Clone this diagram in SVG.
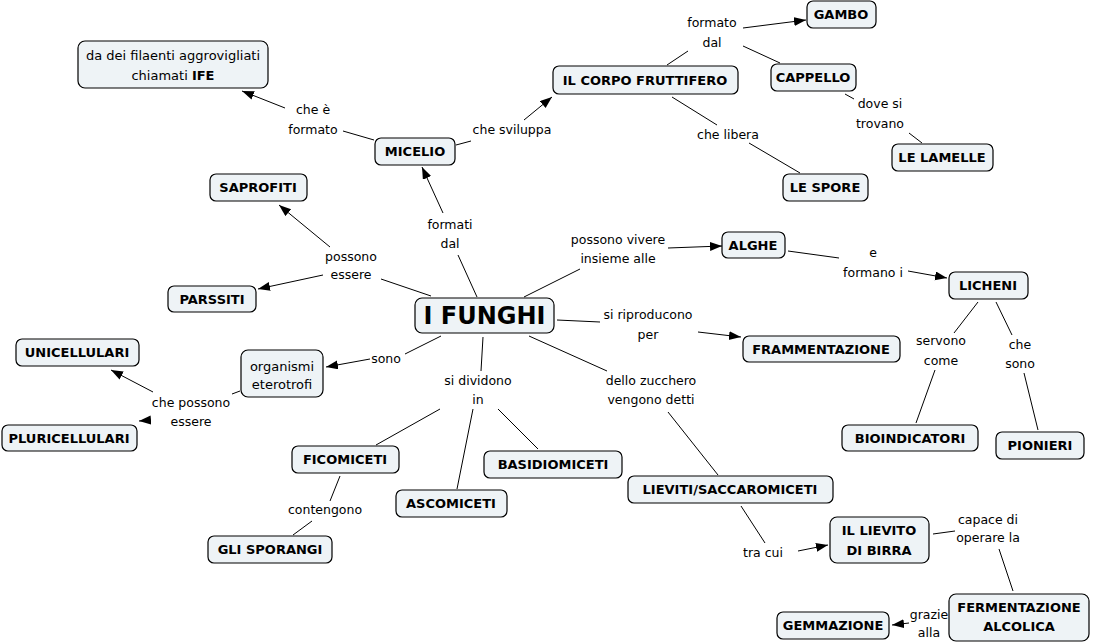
<svg xmlns="http://www.w3.org/2000/svg" width="1096" height="643" viewBox="0 0 1096 643">
<style>
.n rect{fill:#eef3f6;stroke:#000;stroke-width:1.2}
.n text{font-family:"DejaVu Sans",sans-serif;font-size:13px;font-weight:bold;text-anchor:middle;fill:#000}
.n text.r{font-weight:normal}
.l{font-family:"DejaVu Sans",sans-serif;font-size:12.5px;text-anchor:middle;fill:#000}
#c line{stroke:#000;stroke-width:1}
</style>
<defs>
<marker id="a" markerUnits="userSpaceOnUse" markerWidth="13" markerHeight="10" refX="12" refY="4.5" orient="auto"><path d="M0,0 L12,4.5 L0,9 z" fill="#000"/></marker>
</defs>
<rect width="1096" height="643" fill="#fff"/>
<g id="c">
<line x1="374" y1="140" x2="343" y2="131"/>
<line x1="285" y1="108" x2="242" y2="91" marker-end="url(#a)"/>
<line x1="456" y1="145" x2="471" y2="141"/>
<line x1="524" y1="120" x2="552" y2="97" marker-end="url(#a)"/>
<line x1="667" y1="65" x2="688" y2="51"/>
<line x1="743" y1="28" x2="806" y2="20" marker-end="url(#a)"/>
<line x1="743" y1="46" x2="780" y2="63"/>
<line x1="672" y1="97" x2="717" y2="125"/>
<line x1="749" y1="143" x2="800" y2="173"/>
<line x1="845" y1="94" x2="854" y2="99"/>
<line x1="909" y1="133" x2="922" y2="143"/>
<line x1="477" y1="297" x2="458" y2="255"/>
<line x1="443" y1="213" x2="422" y2="167" marker-end="url(#a)"/>
<line x1="431" y1="296" x2="381" y2="279"/>
<line x1="330" y1="247" x2="279" y2="205" marker-end="url(#a)"/>
<line x1="323" y1="275" x2="258" y2="289" marker-end="url(#a)"/>
<line x1="524" y1="297" x2="580" y2="269"/>
<line x1="668" y1="248" x2="722" y2="246" marker-end="url(#a)"/>
<line x1="788" y1="251" x2="839" y2="258"/>
<line x1="908" y1="271" x2="947" y2="278" marker-end="url(#a)"/>
<line x1="557" y1="320" x2="600" y2="322"/>
<line x1="698" y1="332" x2="741" y2="337" marker-end="url(#a)"/>
<line x1="441" y1="336" x2="405" y2="354"/>
<line x1="370" y1="359" x2="326" y2="367" marker-end="url(#a)"/>
<line x1="240" y1="391" x2="232" y2="394"/>
<line x1="153" y1="392" x2="111" y2="370" marker-end="url(#a)"/>
<line x1="151" y1="420" x2="139" y2="421" marker-end="url(#a)"/>
<line x1="483" y1="337" x2="481" y2="371"/>
<line x1="440" y1="409" x2="376" y2="445"/>
<line x1="473" y1="409" x2="457" y2="489"/>
<line x1="498" y1="409" x2="538" y2="449"/>
<line x1="529" y1="336" x2="607" y2="371"/>
<line x1="668" y1="412" x2="718" y2="475"/>
<line x1="741" y1="506" x2="765" y2="543"/>
<line x1="798" y1="551" x2="828" y2="545" marker-end="url(#a)"/>
<line x1="933" y1="534" x2="955" y2="531"/>
<line x1="999" y1="549" x2="1013" y2="591"/>
<line x1="909" y1="623" x2="892" y2="625" marker-end="url(#a)"/>
<line x1="978" y1="302" x2="954" y2="333"/>
<line x1="935" y1="370" x2="916" y2="423"/>
<line x1="996" y1="302" x2="1012" y2="335"/>
<line x1="1024" y1="373" x2="1038" y2="430"/>
<line x1="340" y1="476" x2="330" y2="501"/>
<line x1="312" y1="521" x2="293" y2="535"/>
</g>
<g id="labels">
<text class="l" x="313" y="114">che è</text><text class="l" x="313" y="134">formato</text>
<text class="l" x="512" y="134">che sviluppa</text>
<text class="l" x="712" y="27">formato</text><text class="l" x="712" y="47">dal</text>
<text class="l" x="728" y="139">che libera</text>
<text class="l" x="880" y="108">dove si</text><text class="l" x="880" y="128">trovano</text>
<text class="l" x="450" y="229">formati</text><text class="l" x="450" y="248">dal</text>
<text class="l" x="351" y="261">possono</text><text class="l" x="351" y="279">essere</text>
<text class="l" x="618" y="244">possono vivere</text><text class="l" x="618" y="263">insieme alle</text>
<text class="l" x="873" y="257">e</text><text class="l" x="873" y="277">formano i</text>
<text class="l" x="648" y="319">si riproducono</text><text class="l" x="648" y="339">per</text>
<text class="l" x="386" y="363">sono</text>
<text class="l" x="478" y="385">si dividono</text><text class="l" x="478" y="404">in</text>
<text class="l" x="651" y="385">dello zucchero</text><text class="l" x="651" y="404">vengono detti</text>
<text class="l" x="191" y="407">che possono</text><text class="l" x="191" y="426">essere</text>
<text class="l" x="941" y="345">servono</text><text class="l" x="941" y="365">come</text>
<text class="l" x="1020" y="349">che</text><text class="l" x="1020" y="368">sono</text>
<text class="l" x="325" y="514">contengono</text>
<text class="l" x="763" y="557">tra cui</text>
<text class="l" x="988" y="524">capace di</text><text class="l" x="988" y="542">operare la</text>
<text class="l" x="929" y="619">grazie</text><text class="l" x="929" y="637">alla</text>
</g>
<g id="ife" class="n"><rect x="78" y="41" width="190" height="47" rx="7"/><text class="r" x="173" y="60">da dei filaenti aggrovigliati</text><text class="r" x="173" y="80">chiamati <tspan font-weight="bold">IFE</tspan></text></g>
<g id="saprofiti" class="n"><rect x="210" y="174" width="97" height="27" rx="6"/><text x="258" y="192">SAPROFITI</text></g>
<g id="micelio" class="n"><rect x="375" y="138" width="80" height="27" rx="6"/><text x="415" y="156">MICELIO</text></g>
<g id="corpo" class="n"><rect x="553" y="66" width="185" height="28" rx="6"/><text x="645" y="85">IL CORPO FRUTTIFERO</text></g>
<g id="gambo" class="n"><rect x="807" y="1" width="69" height="27" rx="6"/><text x="841" y="19">GAMBO</text></g>
<g id="cappello" class="n"><rect x="771" y="64" width="85" height="27" rx="6"/><text x="813" y="82">CAPPELLO</text></g>
<g id="lamelle" class="n"><rect x="892" y="144" width="101" height="27" rx="6"/><text x="942" y="162">LE LAMELLE</text></g>
<g id="spore" class="n"><rect x="783" y="174" width="85" height="27" rx="6"/><text x="825" y="192">LE SPORE</text></g>
<g id="alghe" class="n"><rect x="722" y="232" width="63" height="26" rx="6"/><text x="753" y="250">ALGHE</text></g>
<g id="licheni" class="n"><rect x="949" y="272" width="79" height="27" rx="6"/><text x="988" y="290">LICHENI</text></g>
<g id="frammentazione" class="n"><rect x="743" y="336" width="157" height="26" rx="6"/><text x="821" y="354">FRAMMENTAZIONE</text></g>
<g id="bioindicatori" class="n"><rect x="842" y="425" width="136" height="26" rx="6"/><text x="910" y="443">BIOINDICATORI</text></g>
<g id="pionieri" class="n"><rect x="996" y="432" width="88" height="27" rx="6"/><text x="1040" y="450">PIONIERI</text></g>
<g id="lieviti" class="n"><rect x="628" y="476" width="205" height="27" rx="6"/><text x="730" y="494">LIEVITI/SACCAROMICETI</text></g>
<g id="lievito" class="n"><rect x="830" y="517" width="99" height="46" rx="7"/><text x="879" y="535">IL LIEVITO</text><text x="879" y="555">DI BIRRA</text></g>
<g id="fermentazione" class="n"><rect x="949" y="594" width="140" height="47" rx="7"/><text x="1019" y="612">FERMENTAZIONE</text><text x="1019" y="631">ALCOLICA</text></g>
<g id="gemmazione" class="n"><rect x="777" y="612" width="112" height="27" rx="6"/><text x="833" y="630">GEMMAZIONE</text></g>
<g id="funghi" class="n"><rect x="415" y="298" width="139" height="35" rx="7"/><text x="484.5" y="324" style="font-size:24px">I FUNGHI</text></g>
<g id="organismi" class="n"><rect x="241" y="350" width="82" height="47" rx="7"/><text class="r" x="282" y="371">organismi</text><text class="r" x="282" y="389">eterotrofi</text></g>
<g id="unicellulari" class="n"><rect x="16" y="339" width="123" height="27" rx="6"/><text x="77" y="357">UNICELLULARI</text></g>
<g id="parssiti" class="n"><rect x="168" y="286" width="88" height="26" rx="6"/><text x="212" y="304">PARSSITI</text></g>
<g id="pluricellulari" class="n"><rect x="2" y="425" width="135" height="26" rx="6"/><text x="69" y="443">PLURICELLULARI</text></g>
<g id="ficomiceti" class="n"><rect x="292" y="446" width="107" height="27" rx="6"/><text x="345" y="464">FICOMICETI</text></g>
<g id="sporangi" class="n"><rect x="208" y="536" width="124" height="27" rx="6"/><text x="270" y="554">GLI SPORANGI</text></g>
<g id="ascomiceti" class="n"><rect x="396" y="490" width="111" height="27" rx="6"/><text x="451" y="508">ASCOMICETI</text></g>
<g id="basidiomiceti" class="n"><rect x="484" y="451" width="138" height="27" rx="6"/><text x="553" y="469">BASIDIOMICETI</text></g>
</svg>
